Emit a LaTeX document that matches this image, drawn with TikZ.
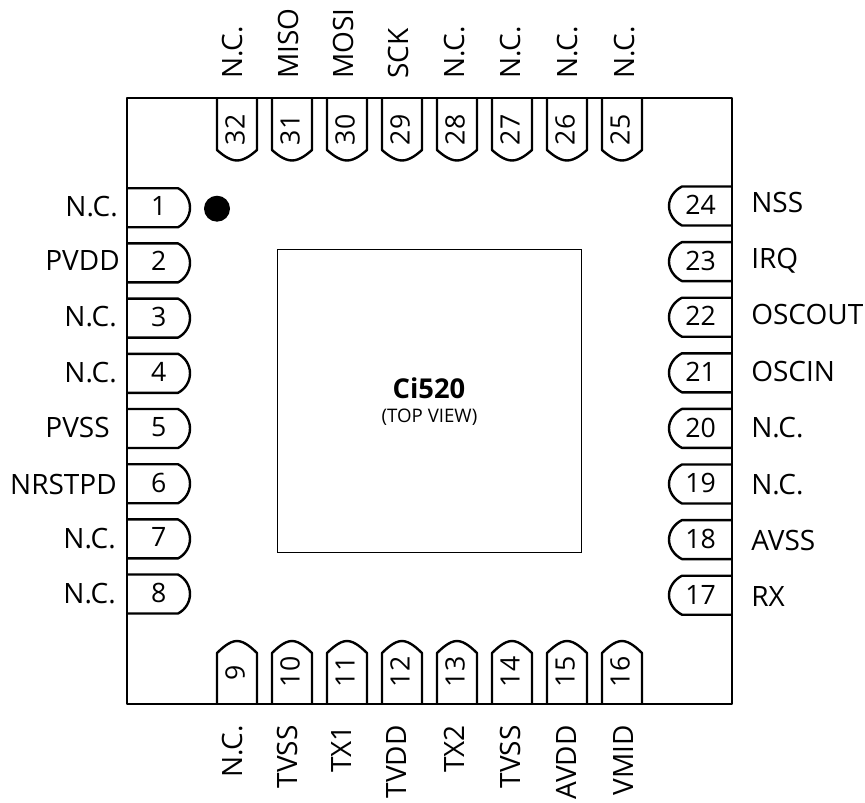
\documentclass[tikz,border=0pt]{standalone}
\usepackage{fontspec}
\setmainfont{Open Sans}

\tikzset{
    pinline/.style = {line width = 1.8pt, black, line join = round},
    pinnum/.style = {font = {\fontsize{20}{22}\selectfont}, black, inner sep = 0pt, text depth = 0pt},
    pinname/.style = {font = {\fontsize{21}{23}\selectfont}, black, inner sep = 0pt, text depth = 0pt},
    leftpin/.pic = {\draw[pinline] (0, -19.5) -- (51, -19.5) .. controls (58.3, -15.8) and (63, -8.2) .. (63, 0) .. controls (63, 8.2) and (58.3, 15.8) .. (51, 19.5) -- (0, 19.5);},
    rightpin/.pic = {\draw[pinline] (0, -19.5) -- (-50, -19.5) .. controls (-57.5, -15.8) and (-63, -8.2) .. (-63, 0) .. controls (-63, 8.2) and (-57.5, 15.8) .. (-50, 19.5) -- (0, 19.5);},
    toppin/.pic = {\draw[pinline] (-20, 0) -- (-20, 52) .. controls (-16, 55.5) and (-8, 62.5) .. (0, 62.5) .. controls (8, 62.5) and (16, 55.5) .. (20, 52) -- (20, 0);},
    botpin/.pic = {\draw[pinline] (-20, 0) -- (-20, -51) .. controls (-16, -54.7) and (-8, -63) .. (0, -63) .. controls (8, -63) and (16, -54.7) .. (20, -51) -- (20, 0);},
}

\begin{document}
\begin{tikzpicture}[x = 0.75pt, y = -0.75pt]
    \useasboundingbox (0, 0) rectangle (865, 803);

    \draw[pinline] (127, 98) rectangle (732, 704);
    \draw[line width = 0.75pt, black] (277, 249) rectangle (581, 552);
    \fill[black] (217, 208.7) circle (13);

    \node[font = {\fontsize{20.5}{22}\selectfont\bfseries}, black, inner sep = 0pt, text depth = 0pt] (chipname) at (429, 388) {Ci520};
    \node[font = {\fontsize{14}{16}\selectfont}, black, inner sep = 0pt] (topview) at (429.5, 417) {(TOP VIEW)};

    % left side
    \pic at (127, 207.7) {leftpin}; \node[pinnum] (num1) at (158.7, 206) {1}; \node[pinname, anchor = east] (name1) at (118, 206) {N.C.};
    \pic at (127, 262.9) {leftpin}; \node[pinnum] (num2) at (158.7, 261.2) {2}; \node[pinname, anchor = east] (name2) at (120, 261) {PVDD};
    \pic at (127, 318.1) {leftpin}; \node[pinnum] (num3) at (158.7, 316.4) {3}; \node[pinname, anchor = east] (name3) at (117, 316.6) {N.C.};
    \pic at (127, 373.3) {leftpin}; \node[pinnum] (num4) at (158.7, 371.6) {4}; \node[pinname, anchor = east] (name4) at (117, 371.9) {N.C.};
    \pic at (127, 428.5) {leftpin}; \node[pinnum] (num5) at (158.7, 426.8) {5}; \node[pinname, anchor = east] (name5) at (110, 427.2) {PVSS};
    \pic at (127, 483.7) {leftpin}; \node[pinnum] (num6) at (158.7, 482.4) {6}; \node[pinname, anchor = east] (name6) at (117, 484.5) {NRSTPD};
    \pic at (127, 538.9) {leftpin}; \node[pinnum] (num7) at (158.7, 537.2) {7}; \node[pinname, anchor = east] (name7) at (116, 538.8) {N.C.};
    \pic at (127, 594) {leftpin}; \node[pinnum] (num8) at (158.7, 592.5) {8}; \node[pinname, anchor = east] (name8) at (116, 593) {N.C.};

    % right side
    \pic at (732, 206) {rightpin}; \node[pinnum] (num24) at (700.5, 205) {24}; \node[pinname, anchor = west] (name24) at (751, 202) {NSS};
    \pic at (732, 261.6) {rightpin}; \node[pinnum] (num23) at (700.5, 260.6) {23}; \node[pinname, anchor = west] (name23) at (751, 258.4) {IRQ};
    \pic at (732, 317.2) {rightpin}; \node[pinnum] (num22) at (700.5, 316.2) {22}; \node[pinname, anchor = west] (name22) at (751, 314.8) {OSCOUT};
    \pic at (732, 372.8) {rightpin}; \node[pinnum] (num21) at (700.5, 371.8) {21}; \node[pinname, anchor = west] (name21) at (751, 371.2) {OSCIN};
    \pic at (732, 428.4) {rightpin}; \node[pinnum] (num20) at (700.5, 427.4) {20}; \node[pinname, anchor = west] (name20) at (751, 427.6) {N.C.};
    \pic at (732, 484) {rightpin}; \node[pinnum] (num19) at (700.5, 483) {19}; \node[pinname, anchor = west] (name19) at (751, 484) {N.C.};
    \pic at (732, 539.6) {rightpin}; \node[pinnum] (num18) at (700.5, 538.6) {18}; \node[pinname, anchor = west] (name18) at (751, 540.4) {AVSS};
    \pic at (732, 595.2) {rightpin}; \node[pinnum] (num17) at (700.5, 594.6) {17}; \node[pinname, anchor = west] (name17) at (751, 596.8) {RX};

    % top side
    \pic at (237, 98) {toppin}; \node[pinnum, rotate = 90] (num32) at (235, 130) {32}; \node[pinname, rotate = 90, anchor = west] (name32) at (232, 79) {N.C.};
    \pic at (292, 98) {toppin}; \node[pinnum, rotate = 90] (num31) at (290, 130) {31}; \node[pinname, rotate = 90, anchor = west] (name31) at (288, 79) {MISO};
    \pic at (347, 98) {toppin}; \node[pinnum, rotate = 90] (num30) at (345, 130) {30}; \node[pinname, rotate = 90, anchor = west] (name30) at (343, 79) {MOSI};
    \pic at (402, 98) {toppin}; \node[pinnum, rotate = 90] (num29) at (400, 130) {29}; \node[pinname, rotate = 90, anchor = west] (name29) at (398, 79) {SCK};
    \pic at (457, 98) {toppin}; \node[pinnum, rotate = 90] (num28) at (455, 130) {28}; \node[pinname, rotate = 90, anchor = west] (name28) at (454, 79) {N.C.};
    \pic at (512, 98) {toppin}; \node[pinnum, rotate = 90] (num27) at (510, 130) {27}; \node[pinname, rotate = 90, anchor = west] (name27) at (510.5, 79) {N.C.};
    \pic at (567, 98) {toppin}; \node[pinnum, rotate = 90] (num26) at (565, 130) {26}; \node[pinname, rotate = 90, anchor = west] (name26) at (567, 79) {N.C.};
    \pic at (622, 98) {toppin}; \node[pinnum, rotate = 90] (num25) at (620, 130) {25}; \node[pinname, rotate = 90, anchor = west] (name25) at (624, 79) {N.C.};

    % bottom side
    \pic at (237, 704) {botpin}; \node[pinnum, rotate = 90] (num9) at (235, 672.5) {9}; \node[pinname, rotate = 90, anchor = east] (name9) at (232, 725) {N.C.};
    \pic at (292, 704) {botpin}; \node[pinnum, rotate = 90] (num10) at (290, 672) {10}; \node[pinname, rotate = 90, anchor = east] (name10) at (287, 725) {TVSS};
    \pic at (347, 704) {botpin}; \node[pinnum, rotate = 90] (num11) at (345, 672) {11}; \node[pinname, rotate = 90, anchor = east] (name11) at (342, 725) {TX1};
    \pic at (402, 704) {botpin}; \node[pinnum, rotate = 90] (num12) at (400, 672) {12}; \node[pinname, rotate = 90, anchor = east] (name12) at (397, 725) {TVDD};
    \pic at (457, 704) {botpin}; \node[pinnum, rotate = 90] (num13) at (455, 672) {13}; \node[pinname, rotate = 90, anchor = east] (name13) at (454, 725) {TX2};
    \pic at (512, 704) {botpin}; \node[pinnum, rotate = 90] (num14) at (510, 672) {14}; \node[pinname, rotate = 90, anchor = east] (name14) at (510, 725) {TVSS};
    \pic at (567, 704) {botpin}; \node[pinnum, rotate = 90] (num15) at (565, 672) {15}; \node[pinname, rotate = 90, anchor = east] (name15) at (566.7, 725) {AVDD};
    \pic at (622, 704) {botpin}; \node[pinnum, rotate = 90] (num16) at (620, 672) {16}; \node[pinname, rotate = 90, anchor = east] (name16) at (623.3, 725) {VMID};
\end{tikzpicture}
\end{document}
